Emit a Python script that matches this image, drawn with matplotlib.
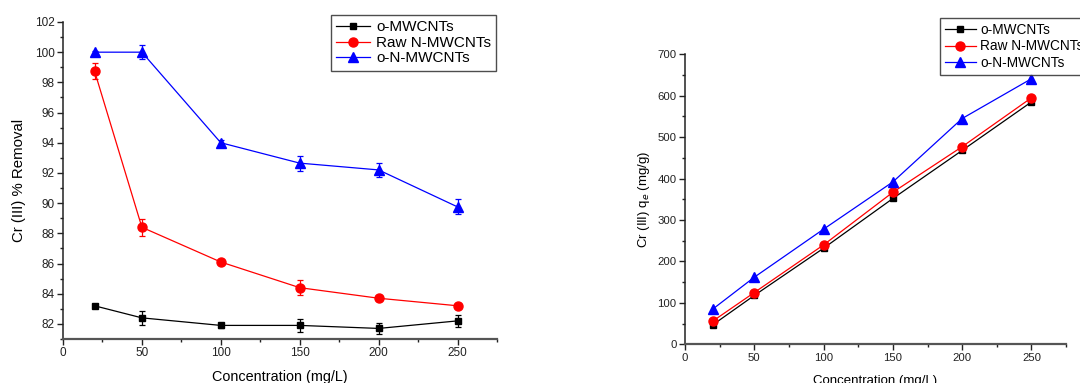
import matplotlib
matplotlib.use('Agg')
import matplotlib.pyplot as plt
from matplotlib.ticker import MultipleLocator

plt.rcParams['font.family'] = ['Liberation Sans', 'DejaVu Sans']

# Initial Cr(III) concentrations (mg/L)
conc = [20, 50, 100, 150, 200, 250]

# % removal with standard deviations
rem_o_mwcnt = [83.2, 82.4, 81.9, 81.9, 81.7, 82.2]
err_o_mwcnt = [0.1, 0.45, 0.15, 0.45, 0.35, 0.4]
rem_raw_n = [98.75, 88.4, 86.1, 84.4, 83.7, 83.2]
err_raw_n = [0.55, 0.55, 0.15, 0.5, 0.1, 0.1]
rem_o_n = [100.0, 100.0, 94.0, 92.65, 92.2, 89.75]
err_o_n = [0.1, 0.45, 0.2, 0.5, 0.45, 0.5]

# Adsorption capacity q_e (mg/g)
qe_o_mwcnt = [47, 118, 232, 352, 468, 585]
qe_raw_n = [56, 125, 240, 367, 477, 595]
qe_o_n = [85, 162, 278, 392, 545, 641]

labels = ['o-MWCNTs', 'Raw N-MWCNTs', 'o-N-MWCNTs']
colors = ['black', 'red', 'blue']
markers = ['s', 'o', '^']


def style_axes(ax, tick_size):
    for side in ['top', 'right']:
        ax.spines[side].set_visible(False)
    ax.spines['left'].set_color('#222222')
    ax.spines['bottom'].set_color('#555555')
    ax.spines['left'].set_linewidth(1.1)
    ax.spines['bottom'].set_linewidth(1.6)
    ax.tick_params(which='major', direction='out', length=4, width=1,
                   labelsize=tick_size, pad=2, colors='#222222')
    ax.tick_params(which='minor', direction='out', length=2, width=1,
                   colors='#222222')
    ax.xaxis.set_major_locator(MultipleLocator(50))
    ax.xaxis.set_minor_locator(MultipleLocator(25))
    ax.set_xlim(0, 275)


fig = plt.figure(figsize=(10.8, 3.83), dpi=100)

# left panel: percentage removal
ax1 = fig.add_axes([0.0583, 0.1149, 0.4019, 0.8277])
rem = [rem_o_mwcnt, rem_raw_n, rem_o_n]
errs = [err_o_mwcnt, err_raw_n, err_o_n]
msizes = [4.5, 6.5, 6.5]
for y, e, c, m, ms, lab in zip(rem, errs, colors, markers, msizes, labels):
    ax1.errorbar(conc, y, yerr=e, fmt='none', ecolor=c,
                 elinewidth=0.9, capsize=2.5, capthick=0.9)
    ax1.plot(conc, y, color=c, marker=m, markersize=ms, linewidth=0.9,
             label=lab)
style_axes(ax1, 8.5)
ax1.set_ylim(81, 102)
ax1.yaxis.set_major_locator(MultipleLocator(2))
ax1.yaxis.set_minor_locator(MultipleLocator(1))
ax1.set_ylabel('Cr (III) % Removal', fontsize=10.8, labelpad=6)
ax1.set_xlabel('Concentration (mg/L)', fontsize=10.4, labelpad=8)
leg1 = ax1.legend(loc='upper left', bbox_to_anchor=(331 / 1080, 1 - 15 / 383),
                  bbox_transform=fig.transFigure, fontsize=11, frameon=True,
                  fancybox=False, edgecolor='#222222', handlelength=2.2,
                  labelspacing=0.1, borderpad=0.35, handletextpad=0.4,
                  borderaxespad=0)
leg1.get_frame().set_linewidth(1.0)

# right panel: adsorption capacity
ax2 = fig.add_axes([0.6343, 0.1010, 0.3528, 0.7572])
qe = [qe_o_mwcnt, qe_raw_n, qe_o_n]
msizes2 = [4.5, 6.5, 6.5]
for y, c, m, ms, lab in zip(qe, colors, markers, msizes2, labels):
    ax2.plot(conc, y, color=c, marker=m, markersize=ms, linewidth=0.9,
             label=lab)
style_axes(ax2, 8.2)
ax2.set_ylim(0, 700)
ax2.yaxis.set_major_locator(MultipleLocator(100))
ax2.yaxis.set_minor_locator(MultipleLocator(50))
ax2.set_ylabel('Cr (III) q$_e$ (mg/g)', fontsize=9.5, labelpad=4)
ax2.set_xlabel('Concentration (mg/L)', fontsize=9.5, labelpad=9)
leg2 = ax2.legend(loc='upper left', bbox_to_anchor=(940 / 1080, 1 - 18 / 383),
                  bbox_transform=fig.transFigure, fontsize=9.8, frameon=True,
                  fancybox=False, edgecolor='#222222', handlelength=2.3,
                  labelspacing=0.2, borderpad=0.35, handletextpad=0.3,
                  borderaxespad=0)
leg2.get_frame().set_linewidth(1.0)

fig.savefig('out.png', dpi=100)
